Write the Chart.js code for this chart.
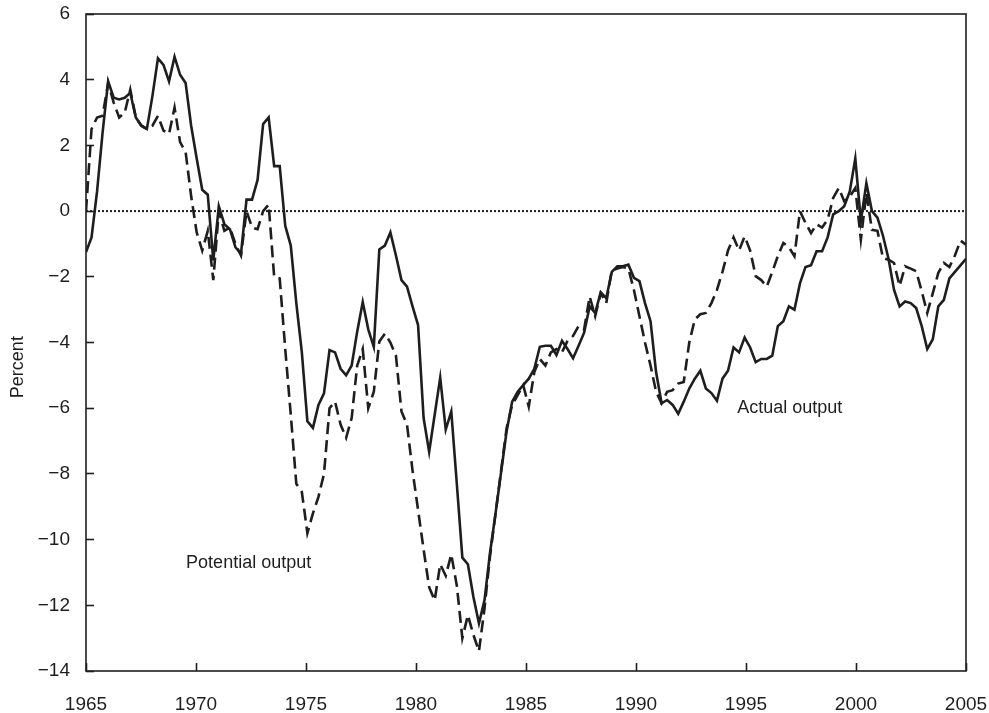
<!DOCTYPE html>
<html><head><meta charset="utf-8">
<script src="https://cdn.jsdelivr.net/npm/chart.js@4.4.1/dist/chart.umd.min.js"></script>
<style>html,body{margin:0;padding:0;background:#fff}</style>
</head><body>
<canvas id="c" width="989" height="713" style="display:block;width:989px;height:713px"></canvas>
<script>
// ---- data (quarterly, 1965Q1 .. 2004Q4), percent ----
const startYear = 1965;
const endYear = 2005;
const quarters = [];
for (let y = startYear; y < endYear; y++) for (let q = 1; q <= 4; q++) quarters.push(y + 'Q' + q);

// Actual output gap (solid)
const actualGap = [
 -1.25,-0.8,0.6,2.4, 3.95,3.45,3.4,3.45, 3.6,2.85,2.6,2.5, 3.5,4.65,4.45,3.95,
 4.7,4.15,3.9,2.6, 1.6,0.65,0.5,-1.5, 0.15,-0.4,-0.55,-1.1, -1.3,0.35,0.35,0.95,
 2.65,2.85,1.37,1.37, -0.45,-1.05,-2.8,-4.3, -6.4,-6.6,-5.9,-5.55, -4.23,-4.3,-4.8,-5.0,
 -4.7,-3.67,-2.77,-3.6, -4.13,-1.17,-1.05,-0.65, -1.35,-2.1,-2.3,-2.9, -3.47,-6.3,-7.33,-6.2,
 -5.07,-6.65,-6.1,-8.3, -10.55,-10.75,-11.75,-12.55, -11.85,-10.4,-9.2,-7.95, -6.7,-5.8,-5.5,-5.3,
 -5.1,-4.8,-4.13,-4.1, -4.1,-4.38,-3.95,-4.2, -4.48,-4.1,-3.7,-2.9, -3.1,-2.47,-2.65,-1.85,
 -1.68,-1.68,-1.63,-2.03, -2.13,-2.8,-3.35,-4.9, -5.85,-5.75,-5.9,-6.17, -5.8,-5.4,-5.1,-4.86,
 -5.4,-5.54,-5.77,-5.1, -4.86,-4.15,-4.3,-3.85, -4.15,-4.6,-4.5,-4.5, -4.4,-3.5,-3.35,-2.9,
 -3.0,-2.2,-1.7,-1.65, -1.22,-1.22,-0.8,-0.1, 0.0,0.15,0.6,1.6, -0.3,0.85,0.0,-0.2,
 -0.75,-1.45,-2.4,-2.9, -2.75,-2.8,-2.95,-3.5, -4.2,-3.9,-2.9,-2.7, -2.05,-1.85,-1.65,-1.45
];

// Potential output gap (dashed)
const potentialGap = [
 0.0,2.5,2.85,2.9, 3.9,3.3,2.85,3.0, 3.7,2.85,2.6,2.5, 2.6,2.9,2.45,2.35,
 3.15,2.1,1.8,0.45, -0.65,-1.2,-0.6,-2.1, 0.0,-0.6,-0.5,-1.0, -1.35,0.0,-0.5,-0.55,
 0.0,0.2,-2.0,-2.05, -4.2,-6.2,-8.3,-8.55, -9.8,-9.2,-8.7,-8.0, -6.0,-5.8,-6.5,-6.9,
 -6.3,-4.7,-4.2,-6.0, -5.5,-3.97,-3.73,-4.0, -4.4,-6.1,-6.5,-7.9, -9.1,-10.3,-11.45,-11.85,
 -10.75,-11.1,-10.45,-11.4, -13.0,-12.3,-12.9,-13.4, -12.1,-10.5,-9.2,-7.9, -6.6,-5.9,-5.6,-5.3,
 -5.95,-4.9,-4.5,-4.7, -4.3,-4.2,-4.3,-3.95, -3.8,-3.5,-3.6,-2.6, -3.2,-2.5,-2.8,-1.8,
 -1.75,-1.7,-1.75,-2.4, -3.2,-4.0,-4.7,-5.5, -5.85,-5.5,-5.45,-5.25, -5.2,-4.0,-3.3,-3.14,
 -3.1,-2.8,-2.4,-1.85, -1.2,-0.8,-1.2,-0.77, -1.2,-1.98,-2.1,-2.3, -1.85,-1.37,-0.97,-1.1,
 -1.37,0.0,-0.36,-0.67, -0.4,-0.5,-0.26,0.4, 0.7,0.3,0.44,0.7, -0.87,0.55,-0.57,-0.6,
 -1.43,-1.48,-1.58,-2.28, -1.68,-1.75,-1.83,-2.44, -3.1,-2.5,-1.88,-1.58, -1.7,-1.35,-0.9,-1.02
];

const xTickLabels = [1965,1970,1975,1980,1985,1990,1995,2000,2005];
const yTickLabels = [6,4,2,0,-2,-4,-6,-8,-10,-12,-14];
const seriesNames = ['Actual output','Potential output'];
const yAxisTitle = 'Percent';
const annotations = [
  {text: 'Actual output', x: 1994.6, y: -6.0},
  {text: 'Potential output', x: 1969.55, y: -10.7}
];

// quarters are spread evenly across the 1965–2005 axis
const toXY = arr => arr.map((v, i) => ({x: startYear + i * (endYear - startYear) / (quarters.length - 1), y: v}));

const INK = '#1e1e1e';
const FONT = "'Liberation Sans', Arial, Helvetica, sans-serif";

const framePlugin = {
  id: 'frame',
  afterDatasetsDraw(chart) {
    const {ctx, chartArea: a} = chart;
    ctx.save();
    ctx.strokeStyle = INK; ctx.lineWidth = 1.6;
    ctx.strokeRect(a.left, a.top, a.right - a.left, a.bottom - a.top);
    ctx.restore();
  }
};
const textPlugin = {
  id: 'texts',
  afterDatasetsDraw(chart) {
    const {ctx, scales: {x, y}} = chart;
    ctx.save();
    ctx.fillStyle = INK; ctx.font = '18px ' + FONT;
    ctx.textAlign = 'left'; ctx.textBaseline = 'middle';
    annotations.forEach(t => ctx.fillText(t.text, x.getPixelForValue(t.x), y.getPixelForValue(t.y)));
    // rotated axis title, placed beside the -4 / -6 labels as in the original
    ctx.translate(18, y.getPixelForValue(-4.75));
    ctx.rotate(-Math.PI / 2);
    ctx.textAlign = 'center';
    ctx.fillText(yAxisTitle, 0, 0);
    ctx.restore();
  }
};

new Chart(document.getElementById('c'), {
  type: 'line',
  data: {
    datasets: [
      {label: seriesNames[0], data: toXY(actualGap), borderColor: INK, borderWidth: 2.6,
       pointRadius: 0, tension: 0, fill: false, order: 1},
      {label: seriesNames[1], data: toXY(potentialGap), borderColor: INK, borderWidth: 2.6,
       borderDash: [12, 6], pointRadius: 0, tension: 0, fill: false, order: 2},
      {label: 'zero', data: [{x: startYear, y: 0}, {x: endYear, y: 0}], borderColor: INK,
       borderWidth: 2, borderDash: [2, 2], pointRadius: 0, fill: false, order: 3}
    ]
  },
  options: {
    responsive: false,
    animation: false,
    events: [],
    layout: {padding: {top: 14, right: 23, left: 0, bottom: 0}},
    plugins: {legend: {display: false}, tooltip: {enabled: false}},
    scales: {
      x: {
        type: 'linear', min: startYear, max: endYear,
        afterBuildTicks: s => { s.ticks = xTickLabels.map(v => ({value: v})); },
        afterFit: s => { s.height = 42; s.paddingLeft = 0; s.paddingRight = 0; },
        ticks: {color: INK, font: {family: FONT, size: 19}, padding: 30, maxRotation: 0,
                callback: v => String(v)},
        grid: {display: true, drawOnChartArea: false, drawTicks: true, tickLength: -8,
               tickColor: INK, tickWidth: 1.6},
        border: {display: false}
      },
      y: {
        type: 'linear', min: -14, max: 6,
        afterBuildTicks: s => { s.ticks = yTickLabels.map(v => ({value: v})); },
        afterFit: s => { s.width = 86; s.paddingTop = 0; s.paddingBottom = 0; },
        ticks: {color: INK, font: {family: FONT, size: 19}, padding: 24,
                callback: v => (v < 0 ? '\u2212' + Math.abs(v) : String(v))},
        grid: {display: true, drawOnChartArea: false, drawTicks: true, tickLength: -8,
               tickColor: INK, tickWidth: 1.6},
        border: {display: false}
      }
    }
  },
  plugins: [framePlugin, textPlugin]
});
</script>
</body></html>
